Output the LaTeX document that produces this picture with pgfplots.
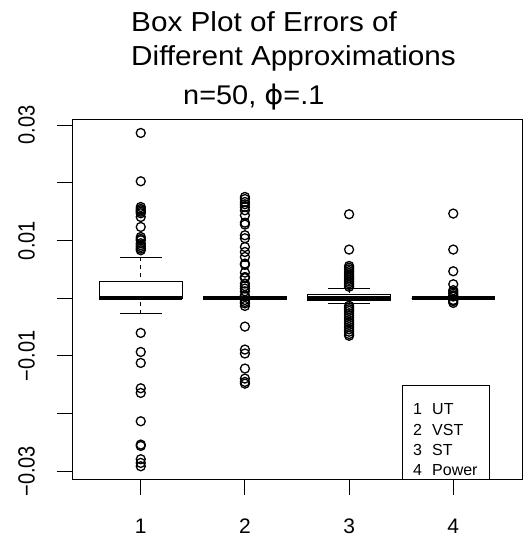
\documentclass[border=0pt]{standalone}
\usepackage{pgfplots}
\pgfplotsset{compat=1.18}
\usepgfplotslibrary{statistics}
\usepackage{fontspec}
\setmainfont{Liberation Sans}
\newfontfamily\dejavu{DejaVu Sans}
\pgfplotsset{
  boxplot/draw/lower whisker/.code={%
    \draw[line width=1pt,dash pattern=on 4pt off 4pt]
      (boxplot box cs:\pgfplotsboxplotvalue{lower whisker},0.5) --
      (boxplot box cs:\pgfplotsboxplotvalue{lower quartile},0.5);
    \draw[line width=1pt]
      (boxplot whisker cs:\pgfplotsboxplotvalue{lower whisker},0) --
      (boxplot whisker cs:\pgfplotsboxplotvalue{lower whisker},1);
  },
  boxplot/draw/upper whisker/.code={%
    \draw[line width=1pt,dash pattern=on 4pt off 4pt]
      (boxplot box cs:\pgfplotsboxplotvalue{upper whisker},0.5) --
      (boxplot box cs:\pgfplotsboxplotvalue{upper quartile},0.5);
    \draw[line width=1pt]
      (boxplot whisker cs:\pgfplotsboxplotvalue{upper whisker},0) --
      (boxplot whisker cs:\pgfplotsboxplotvalue{upper whisker},1);
  },
}
\begin{document}
\begin{tikzpicture}
\useasboundingbox (0pt,0pt) rectangle (528pt,540pt);
% values below are errors in units of 0.01
\begin{axis}[
  at={(72pt,60pt)}, anchor=south west,
  width=450pt, height=360pt, scale only axis,
  xmin=0.34, xmax=4.66, ymin=-3.15, ymax=3.09,
  xtick={1,2,3,4}, xticklabels={1,2,3,4},
  ytick={-3,-2,-1,0,1,2,3},
  yticklabels={−0.03,,−0.01,,0.01,,0.03},
  tick pos=left, tick align=outside, major tick length=15pt,
  axis line style={line width=1pt},
  every tick/.style={black,line width=1pt},
  xticklabel style={font=\fontsize{21}{21}\selectfont, anchor=north, inner sep=0pt},
  yticklabel style={font=\fontsize{20}{20}\selectfont, xscale=1.17, rotate=90, anchor=south, inner sep=0pt},
  xticklabel shift=24pt, yticklabel shift=22pt,
  boxplot/draw direction=y,
  boxplot/box extend=0.8, boxplot/whisker extend=0.4,
  boxplot/every box/.style={draw=black, line width=1pt},
  boxplot/every median/.style={draw=black, line width=4pt},
  clip=false,
]
\addplot+[black, solid, mark=o, mark size=4.5pt, mark options={solid, black, line width=1.3pt},
  boxplot prepared={draw position=1, median=0, lower quartile=0, upper quartile=0.295,
    lower whisker=-0.27, upper whisker=0.71}]
  table[row sep=\\, y index=0]{y\\
  2.865\\ 2.028\\ 1.582\\ 1.55\\ 1.525\\ 1.50\\ 1.473\\ 1.409\\ 1.236\\
  1.062\\ 1.030\\ 1.005\\ 0.953\\ 0.92\\ 0.889\\ 0.86\\ 0.832\\
  -0.601\\ -0.931\\ -1.121\\ -1.56\\ -1.641\\ -2.132\\ -2.536\\ -2.56\\
  -2.79\\ -2.854\\ -2.912\\
  };
\addplot+[black, solid, mark=o, mark size=4.5pt, mark options={solid, black, line width=1.3pt},
  boxplot prepared={draw position=2, median=0, lower quartile=0, upper quartile=0,
    lower whisker=0, upper whisker=0}]
  table[row sep=\\, y index=0]{y\\
  1.756\\ 1.72\\ 1.669\\ 1.63\\ 1.582\\ 1.525\\ 1.438\\ 1.31\\ 1.277\\
  1.092\\ 1.04\\ 0.889\\ 0.802\\ 0.716\\ 0.601\\ 0.58\\ 0.445\\ 0.369\\
  0.35\\ 0.255\\ 0.21\\ 0.168\\ 0.12\\ 0.052\\ 0.03\\
  -0.03\\ -0.064\\ -0.09\\ -0.133\\
  -0.491\\ -0.889\\ -0.958\\ -1.218\\ -1.392\\ -1.450\\ -1.480\\
  };
\addplot+[black, solid, mark=o, mark size=4.5pt, mark options={solid, black, line width=1.3pt},
  boxplot prepared={draw position=3, median=0.01, lower quartile=-0.047, upper quartile=0.07,
    lower whisker=-0.092, upper whisker=0.168}]
  table[row sep=\\, y index=0]{y\\
  1.456\\ 0.844\\ 0.56\\ 0.53\\ 0.50\\ 0.47\\ 0.44\\ 0.41\\ 0.38\\
  0.35\\ 0.32\\ 0.29\\ 0.26\\ 0.23\\ 0.20\\
  -0.13\\ -0.16\\ -0.19\\ -0.22\\ -0.26\\ -0.30\\ -0.34\\ -0.38\\
  -0.42\\ -0.46\\ -0.50\\ -0.54\\ -0.58\\ -0.62\\ -0.65\\
  };
\addplot+[black, solid, mark=o, mark size=4.5pt, mark options={solid, black, line width=1.3pt},
  boxplot prepared={draw position=4, median=0, lower quartile=0, upper quartile=0,
    lower whisker=0, upper whisker=0}]
  table[row sep=\\, y index=0]{y\\
  1.468\\ 0.844\\ 0.468\\ 0.243\\ 0.14\\ 0.11\\ 0.08\\ 0.05\\ 0.03\\
  -0.03\\ -0.05\\ -0.08\\
  };
\end{axis}
% titles
\node[anchor=base west, inner sep=0pt, font=\fontsize{27.5}{27.5}\selectfont, xscale=1.08] at (131pt,508pt) {Box Plot of Errors of};
\node[anchor=base west, inner sep=0pt, font=\fontsize{27.5}{27.5}\selectfont, xscale=1.08] at (131pt,474pt) {Different Approximations};
\node[anchor=base west, inner sep=0pt, font=\fontsize{27}{27}\selectfont, xscale=1.07] at (183pt,435pt) {n=50, {\dejavu ϕ}=.1};
% legend
\draw[line width=1pt] (402pt,60pt) rectangle (489pt,154pt);
\begin{scope}[every node/.style={anchor=base west, inner sep=0pt, font=\fontsize{16}{16}\selectfont}]
\node at (413pt,125pt) {1}; \node at (432pt,125pt) {UT};
\node at (413pt,104.3pt) {2}; \node at (432pt,104.3pt) {VST};
\node at (413pt,84.3pt) {3}; \node at (432pt,84.3pt) {ST};
\node at (413pt,64pt) {4}; \node at (432pt,64pt) {Power};
\end{scope}
\end{tikzpicture}
\end{document}
